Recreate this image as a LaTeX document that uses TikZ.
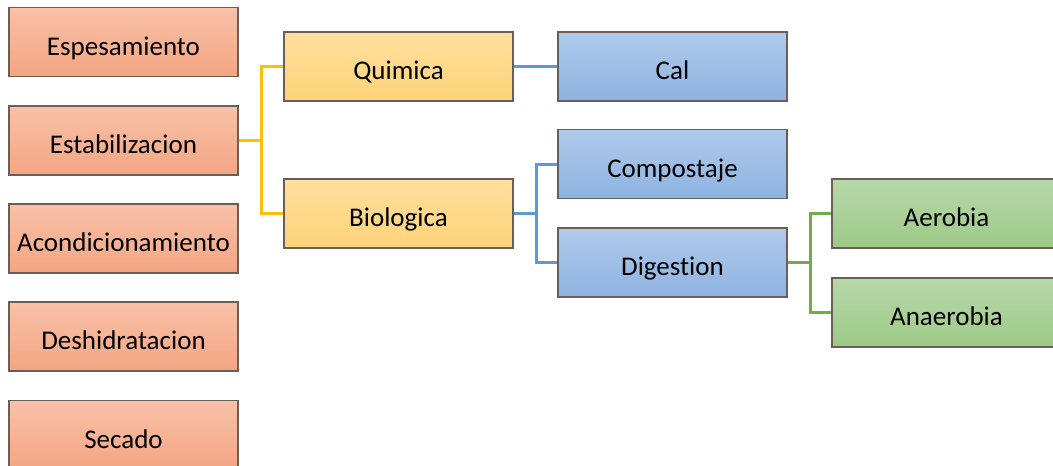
\documentclass[tikz,border=0pt]{standalone}
\usepackage{fontspec}
\setmainfont{Carlito}[Ligatures=NoCommon]
\definecolor{bordc}{HTML}{6B5E57}
\definecolor{orT}{HTML}{F8C1A8}
\definecolor{orB}{HTML}{F4A582}
\definecolor{yeT}{HTML}{FFDF9E}
\definecolor{yeB}{HTML}{FDD378}
\definecolor{blT}{HTML}{B0CAEA}
\definecolor{blB}{HTML}{8DB3E2}
\definecolor{grT}{HTML}{B7D8A9}
\definecolor{grB}{HTML}{9DCA87}
\definecolor{lnO}{HTML}{FFC000}
\definecolor{lnB}{HTML}{5B9BD5}
\definecolor{lnG}{HTML}{70AD47}
\tikzset{
  box/.style={draw=bordc, line width=1.1pt, minimum width=229pt, minimum height=69pt,
    inner sep=0pt, text height=30pt, text depth=4pt,
    font=\fontsize{27}{31}\selectfont, text=black},
  orbox/.style={box, top color=orT, bottom color=orB},
  yebox/.style={box, top color=yeT, bottom color=yeB},
  blbox/.style={box, top color=blT, bottom color=blB},
  grbox/.style={box, top color=grT, bottom color=grB},
  link/.style={line width=3pt},
}
\begin{document}
\begin{tikzpicture}[x=1pt,y=-1pt]
\path[use as bounding box] (0,0) rectangle (1053,466);
\clip (0,0) rectangle (1053,466);
\fill[white] (0,0) rectangle (1053,466);
% nodes
\node[orbox] (esp) at (123.5,42) {Espesamiento};
\node[orbox] (est) at (123.5,140.5) {Estabilizacion};
\node[orbox] (aco) at (123.5,238.5) {Acondicionamiento};
\node[orbox] (des) at (123.5,336.5) {Deshidratacion};
\node[orbox] (sec) at (123.5,435) {Secado};
\node[yebox] (quim) at (398.5,66.5) {Quimica};
\node[yebox] (bio) at (398.5,213.5) {Biologica};
\node[blbox] (cal) at (672.5,66.5) {Cal};
\node[blbox] (comp) at (672.5,164) {Compostaje};
\node[blbox] (dig) at (672.5,262.5) {Digestion};
\node[grbox] (aer) at (946.5,213.5) {Aerobia};
\node[grbox] (ana) at (946.5,312.5) {Anaerobia};
% connectors
\draw[link, lnO] (est.east) -- ++(23,0) |- (quim.west);
\draw[link, lnO] (est.east) -- ++(23,0) |- (bio.west);
\draw[link, lnB] (quim.east) -- (cal.west);
\draw[link, lnB] (bio.east) -- ++(22.5,0) |- (comp.west);
\draw[link, lnB] (bio.east) -- ++(22.5,0) |- (dig.west);
\draw[link, lnG] (dig.east) -- ++(22.5,0) |- (aer.west);
\draw[link, lnG] (dig.east) -- ++(22.5,0) |- (ana.west);
\end{tikzpicture}
\end{document}
